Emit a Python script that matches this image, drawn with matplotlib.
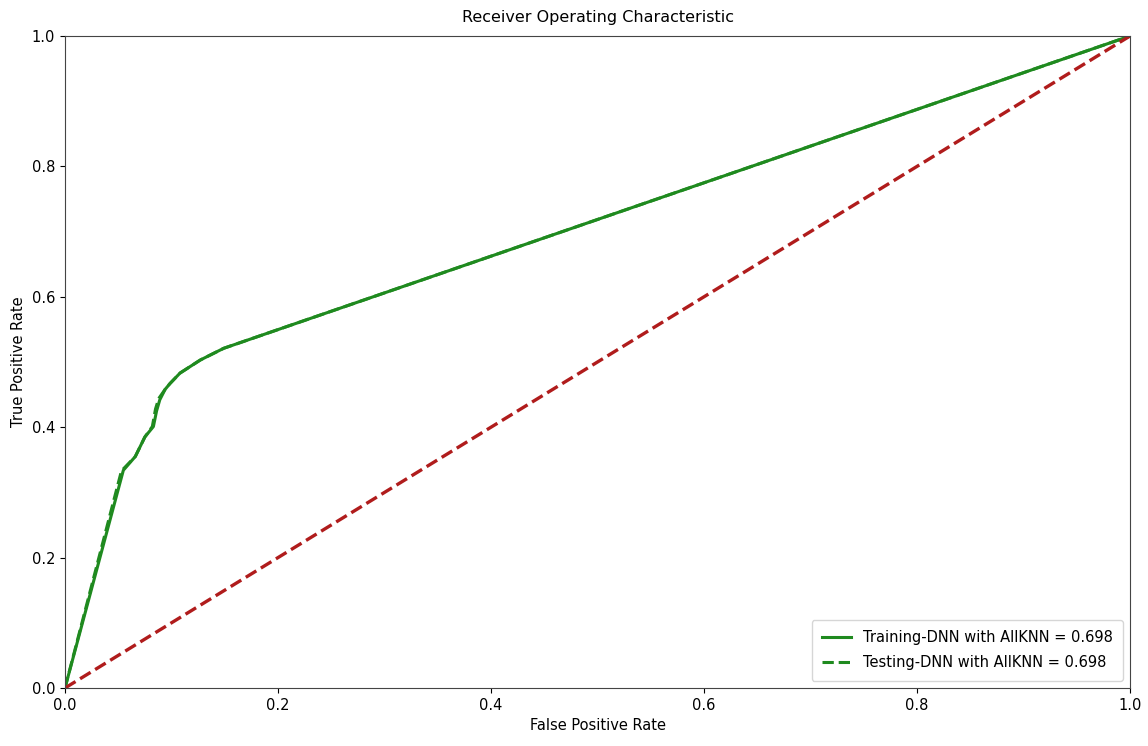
import matplotlib

matplotlib.use("Agg")
import matplotlib.pyplot as plt  # noqa: E402

# ROC points
train_fpr = [0.0, 0.0548, 0.066, 0.075, 0.083, 0.086, 0.089, 0.094, 0.0986, 0.108, 0.127, 0.149, 1.0]
train_tpr = [0.0, 0.334, 0.355, 0.385, 0.401, 0.425, 0.442, 0.458, 0.467, 0.483, 0.503, 0.521, 1.0]
test_fpr = [0.0, 0.053, 0.066, 0.075, 0.082, 0.085, 0.088, 0.094, 0.0986, 0.108, 0.127, 0.149, 1.0]
test_tpr = [0.0, 0.333, 0.355, 0.385, 0.401, 0.428, 0.444, 0.458, 0.467, 0.483, 0.503, 0.521, 1.0]
train_auc = 0.698
test_auc = 0.698
chance = [0.0, 1.0]

plt.rcParams.update({"font.family": "DejaVu Sans", "font.size": 10.5})
fig = plt.figure(figsize=(11.48, 7.46), dpi=100)
ax = fig.add_axes([65 / 1148, 1 - 688 / 746, 1065 / 1148, 652 / 746])

ax.plot(train_fpr, train_tpr, color="#1f8a1f", lw=2.2, label=f"Training-DNN with AllKNN = {train_auc:.3f}")
ax.plot(test_fpr, test_tpr, color="#1f8a1f", lw=2.2, ls="--", label=f"Testing-DNN with AllKNN = {test_auc:.3f}")
ax.plot(chance, chance, color="#b01c1c", lw=2.4, ls="--")

ax.set_xlim(0, 1); ax.set_ylim(0, 1)
ax.set_title("Receiver Operating Characteristic", pad=10, fontsize=11.5)
ax.set_xlabel("False Positive Rate"); ax.set_ylabel("True Positive Rate")
for s in ax.spines.values():
    s.set_color("#444444")
ax.legend(loc="lower right", fontsize=10.5, borderpad=0.7, labelspacing=0.7)

fig.savefig("out.png", dpi=100, facecolor="white")
